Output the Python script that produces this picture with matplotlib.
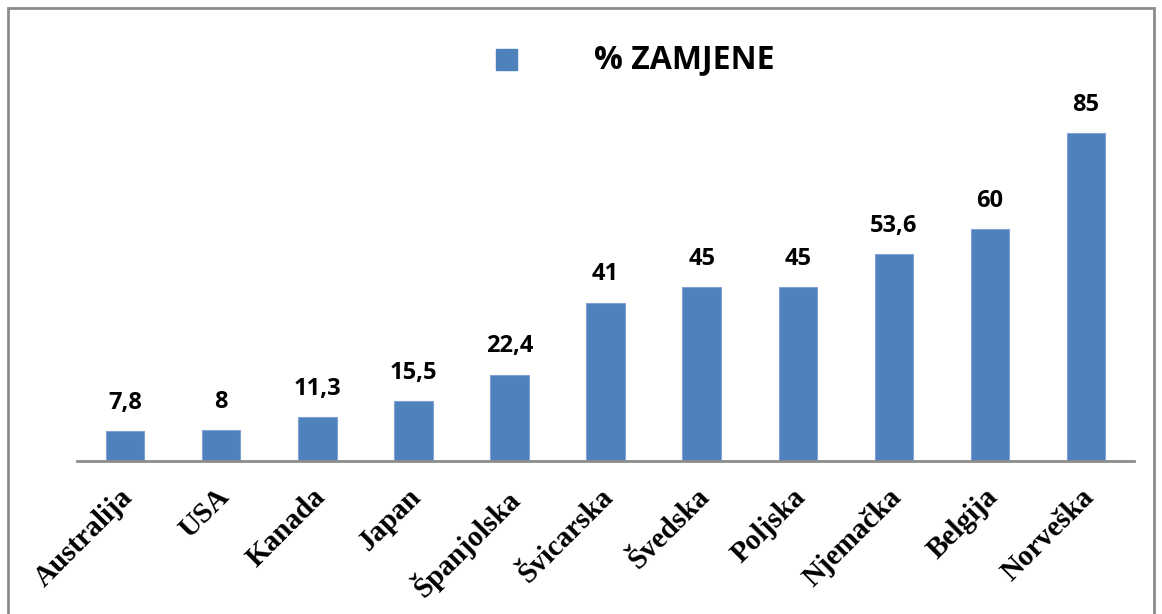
import matplotlib.pyplot as plt
import matplotlib.patches as patches
import matplotlib.transforms as mtrans

# podaci
zemlje = ['Australija', 'USA', 'Kanada', 'Japan', 'Španjolska', 'Švicarska',
          'Švedska', 'Poljska', 'Njemačka', 'Belgija', 'Norveška']
zamjene = [7.8, 8, 11.3, 15.5, 22.4, 41, 45, 45, 53.6, 60, 85]
oznake = ['7,8', '8', '11,3', '15,5', '22,4', '41', '45', '45', '53,6', '60', '85']

boja = '#4F81BD'

fig = plt.figure(figsize=(11.62, 6.14), dpi=100)
ax = fig.add_axes([0.0663, 0.2492, 0.9097, 0.6288])

x = range(len(zemlje))
bars = ax.bar(x, zamjene, width=0.4, color=boja, edgecolor='#7FA3D3', linewidth=0.8)

for i, b in enumerate(bars):
    ax.text(b.get_x() + b.get_width() / 2, b.get_height() + 4.2, oznake[i],
            ha='center', va='bottom', fontsize=17, fontweight='bold',
            family='Open Sans')

ax.set_xlim(-0.5, len(zemlje) - 0.5)
ax.set_ylim(0, 100)
ax.set_yticks([])
ax.set_xticks(list(x))
ax.set_xticklabels(zemlje, rotation=45, ha='right', rotation_mode='anchor',
                   fontsize=21, fontweight='bold', family='Liberation Serif')
ax.tick_params(axis='x', length=0, pad=16)
pomak = mtrans.ScaledTranslation(-6 / 100, 0, fig.dpi_scale_trans)
for lbl in ax.get_xticklabels():
    lbl.set_transform(lbl.get_transform() + pomak)
for s in ['top', 'right', 'left']:
    ax.spines[s].set_visible(False)
ax.spines['bottom'].set_color('#8C8C8C')
ax.spines['bottom'].set_linewidth(2)

# legenda
fig.patches.append(patches.Rectangle((496 / 1162, 1 - 70 / 614), 21 / 1162, 21 / 614,
                                     transform=fig.transFigure, color=boja))
fig.text(594 / 1162, 1 - 60 / 614, '% ZAMJENE', ha='left', va='center',
         fontsize=23, fontweight='bold', family='Open Sans')

# okvir
fig.patches.append(patches.Rectangle((8 / 1162, -0.05), 1146 / 1162, 1 - 8 / 614 + 0.05,
                                     transform=fig.transFigure, fill=False,
                                     edgecolor='#8C8C8C', linewidth=2))

plt.savefig('out.png', dpi=100)
